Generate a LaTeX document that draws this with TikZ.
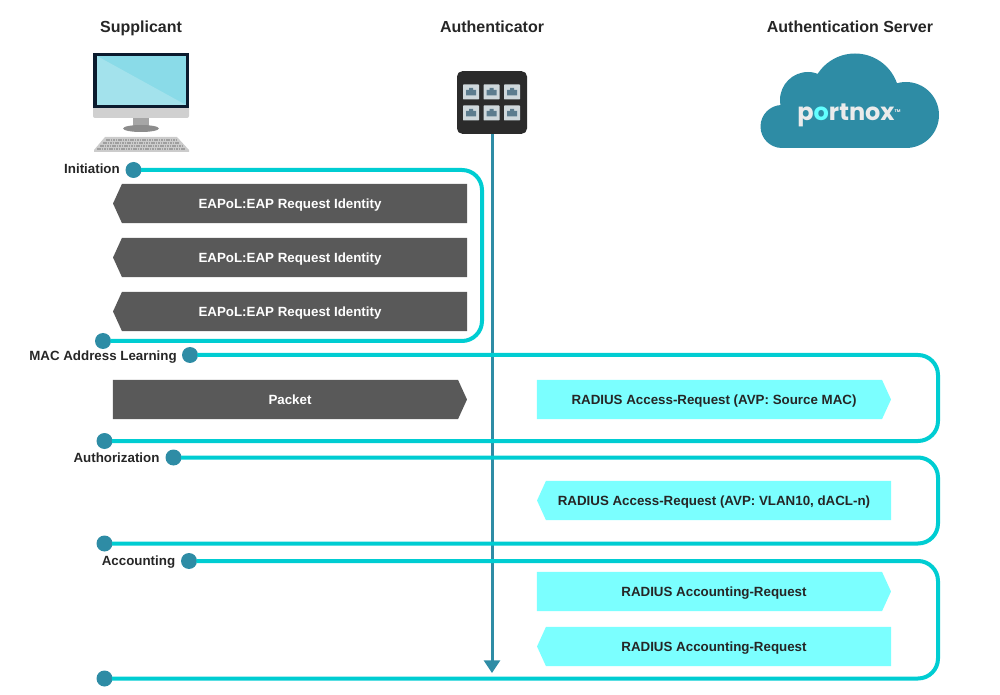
\documentclass[tikz,border=0pt]{standalone}
\usepackage{fontspec}
\setmainfont{Liberation Sans}
\newfontfamily\logofont{Poppins}
\usetikzlibrary{arrows.meta,shapes.symbols}
\definecolor{linkteal}{HTML}{00CDD2}
\definecolor{dotblue}{HTML}{2E8CA5}
\definecolor{boxgray}{HTML}{595959}
\definecolor{boxcyan}{HTML}{7BFFFF}
\definecolor{inkdark}{HTML}{262626}
\definecolor{screendark}{HTML}{8ADBE8}
\definecolor{screenlight}{HTML}{A3E2EC}
\definecolor{framedark}{HTML}{0B1B2E}
\definecolor{chingray}{HTML}{D0D0D0}
\definecolor{portlight}{HTML}{CFD8DC}
\definecolor{porticon}{HTML}{5C7C8E}
\tikzset{
  header/.style={font=\bfseries\fontsize{12}{14}\selectfont, text=inkdark, text depth=0pt},
  phase/.style={font=\bfseries\fontsize{10}{12}\selectfont, text=inkdark, text depth=0pt},
  linkdot/.style={circle, fill=dotblue, minimum size=12pt, inner sep=0pt, outer sep=-0.5pt},
  linkline/.style={draw=linkteal, line width=3pt, rounded corners=15pt},
  msgbox/.style={signal, signal from=nowhere, signal pointer angle=131, minimum width=265.5pt, minimum height=29.5pt,
    inner sep=0pt, text depth=0pt, font=\bfseries\fontsize{10}{12}\selectfont},
  pointleft/.style={signal to=west, xshift=3.375pt, execute at end node={\kern6.75pt}},
  pointright/.style={signal to=east, xshift=-3.375pt, execute at begin node={\kern6.75pt}},
  graybox/.style={msgbox, fill=boxgray, text=white},
  cyanbox/.style={msgbox, fill=boxcyan, text=inkdark},
}
\begin{document}
\begin{tikzpicture}[x=0.75pt,y=-0.75pt]
  \useasboundingbox (0,0) rectangle (1000,695);

  % headers
  \node[header] (supplicant) at (141,27) {Supplicant};
  \node[header] (authenticator) at (492,27) {Authenticator};
  \node[header] (server) at (850,27) {Authentication Server};

  % computer
  \fill[chingray] (93,108) -- (189,108) -- (189,116) arc (0:90:2) -- (95,118) arc (90:180:2) -- cycle;
  \fill[gray!70] (133,118) rectangle (149,127);
  \fill[gray!90] (141,128.5) ellipse (18 and 3.5);
  \fill[framedark] (93,53) rectangle (189,108);
  \fill[screendark] (97,56) rectangle (186,105);
  \fill[screenlight] (97,56) -- (186,105) -- (97,105) -- cycle;
  \fill[gray!40] (105,137) -- (177,137) -- (189,150) -- (189,152) -- (94,152) -- (94,150) -- cycle;
  \foreach \ky/\kx in {140/106,143/103,146/100,149/97}
    \draw[gray!75, line width=1pt, dash pattern=on 1.2pt off 0.6pt] (\kx,\ky) -- (282-\kx,\ky);

  % switch
  \node[fill=black!83, rounded corners=4pt, minimum width=52.5pt, minimum height=47pt, inner sep=0pt] (switch) at (492,102.5) {};
  \foreach \py in {92,113}
    \foreach \px in {471,491.5,512}{
      \fill[portlight, rounded corners=0.5pt] (\px-8,\py-7.5) rectangle (\px+8,\py+7.5);
      \fill[porticon] (\px-5,\py+3.5) -- (\px-5,\py-2) -- (\px-2,\py-2) -- (\px-2,\py-4) -- (\px+2,\py-4) -- (\px+2,\py-2) -- (\px+5,\py-2) -- (\px+5,\py+3.5) -- cycle;
    }

  % cloud
  \begin{scope}[fill=dotblue]
    \fill (782,126.5) circle[radius=21.5];
    \fill (808,100) circle[radius=28];
    \fill (855,98) circle[radius=44.5];
    \fill (906,115) circle[radius=33];
    \fill (782,110) rectangle (906,148);
  \end{scope}
  \node[font=\logofont\bfseries\fontsize{18}{20}\selectfont, text=black!8, inner sep=0pt] (logo) at (849,115.5) {p\textcolor{boxcyan!80!cyan}{o}rtnox\raisebox{6pt}{\fontsize{3}{3}\selectfont TM}};

  % backbone
  \coordinate (backboneEnd) at (492,673);
  \draw[draw=dotblue, line width=2.25pt, -{Triangle[width=12pt,length=9.5pt]}] (switch) -- (backboneEnd);

  % phases
  \node[phase] (initLabel) at (92,168.5) {Initiation};
  \node[linkdot] (initStart) at (133.5,170) {};
  \node[linkdot] (initEnd) at (103,341) {};
  \coordinate (initTurn) at (482,341);
  \draw[linkline] (initStart) -| (initTurn) -- (initEnd);

  \node[phase] (macLabel) at (103,356) {MAC Address Learning};
  \node[linkdot] (macStart) at (190,355) {};
  \node[linkdot] (macEnd) at (104.5,441) {};
  \coordinate (macTurn) at (938,441);
  \draw[linkline] (macStart) -| (macTurn) -- (macEnd);

  \node[phase] (authLabel) at (116.5,457.5) {Authorization};
  \node[linkdot] (authStart) at (173.5,457.5) {};
  \node[linkdot] (authEnd) at (104.5,543.5) {};
  \coordinate (authTurn) at (938,543.5);
  \draw[linkline] (authStart) -| (authTurn) -- (authEnd);

  \node[phase] (acctLabel) at (138.5,560.5) {Accounting};
  \node[linkdot] (acctStart) at (189,561) {};
  \node[linkdot] (acctEnd) at (104.5,678.5) {};
  \coordinate (acctTurn) at (938,678.5);
  \draw[linkline] (acctStart) -| (acctTurn) -- (acctEnd);

  % messages
  \node[graybox, pointleft] (req1) at (290,203.5) {EAPoL:EAP Request Identity};
  \node[graybox, pointleft] (req2) at (290,257.5) {EAPoL:EAP Request Identity};
  \node[graybox, pointleft] (req3) at (290,311.5) {EAPoL:EAP Request Identity};
  \node[graybox, pointright] (packet) at (290,399.5) {Packet};
  \node[cyanbox, pointright] (radiusMac) at (714,399.5) {RADIUS Access-Request (AVP: Source MAC)};
  \node[cyanbox, pointleft] (radiusVlan) at (714,500.5) {RADIUS Access-Request (AVP: VLAN10, dACL-n)};
  \node[cyanbox, pointright] (acctReq) at (714,591.5) {RADIUS Accounting-Request};
  \node[cyanbox, pointleft] (acctResp) at (714,646.5) {RADIUS Accounting-Request};
\end{tikzpicture}
\end{document}
